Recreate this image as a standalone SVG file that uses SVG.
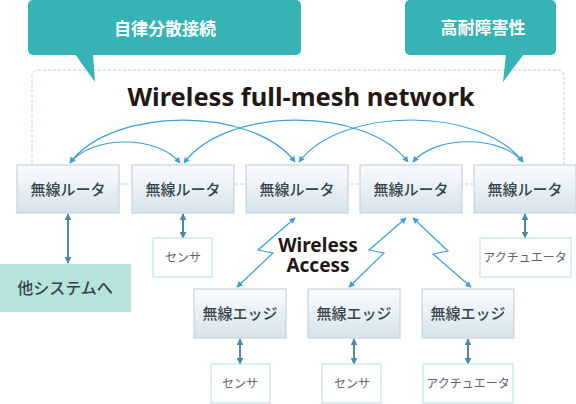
<svg xmlns="http://www.w3.org/2000/svg" width="576" height="404" viewBox="0 0 576 404">
<defs>
<linearGradient id="boxg" x1="0" y1="0" x2="0" y2="1">
<stop offset="0" stop-color="#fafcfd"/>
<stop offset="1" stop-color="#d6e3ec"/>
</linearGradient>
<marker id="ab" viewBox="0 0 10 10" refX="9" refY="5" markerWidth="7" markerHeight="6" markerUnits="userSpaceOnUse" orient="auto-start-reverse">
<path d="M0,0 L10,5 L0,10 Z" fill="#3a9fd8"/>
</marker>
<marker id="ad" viewBox="0 0 10 10" refX="9" refY="5" markerWidth="7" markerHeight="7" markerUnits="userSpaceOnUse" orient="auto-start-reverse">
<path d="M0,0 L10,5 L0,10 Z" fill="#4c8aa6"/>
</marker>
</defs>
<style>
.jp{font-family:"Noto Sans CJK JP","Noto Sans",sans-serif;}
.en{font-family:"Noto Sans","Open Sans",sans-serif;font-weight:bold;fill:#231815;}
.box{fill:url(#boxg);stroke:#c8d2d9;stroke-width:1.2;}
.bt{font-size:15px;font-weight:500;fill:#36434c;text-anchor:middle;}
.dev{fill:#ffffff;stroke:#bfe4e6;stroke-width:1.2;}
.dt{font-size:12px;fill:#5a6770;text-anchor:middle;}
.arc{fill:none;stroke:#3a9fd8;stroke-width:1.2;marker-start:url(#ab);marker-end:url(#ab);}
.vl{fill:none;stroke:#4c8aa6;stroke-width:2;marker-start:url(#ad);marker-end:url(#ad);}
.call{fill:#35b3b5;}
.ct{font-size:17px;font-weight:bold;fill:#ffffff;text-anchor:middle;}
</style>

<rect id="frame" x="32" y="70" width="532" height="114" rx="6" fill="none" stroke="#a9d4ec" stroke-width="1" stroke-dasharray="3 2"/>

<g id="callout-left">
<rect class="call" x="28" y="0" width="273" height="55" rx="5"/>
<path class="call" d="M75,54 L93,54 L95,82 Z"/>
<text class="jp ct" x="165" y="35">自律分散接続</text>
</g>
<g id="callout-right">
<rect class="call" x="405" y="0" width="151" height="55" rx="5"/>
<path class="call" d="M506,54 L524,54 L503,82 Z"/>
<text class="jp ct" x="483" y="34">高耐障害性</text>
</g>

<text id="title" class="en" x="301" y="106" font-size="25.5" text-anchor="middle">Wireless full-mesh network</text>

<g id="connectors">
<path class="arc" d="M70,163 C112,106 253,106 295,162"/>
<path class="arc" d="M184,163 C226,106 366,106 408,162"/>
<path class="arc" d="M299,162 C341,106 481,106 523,162"/>
<path class="arc" d="M70,163 C92,135 158,135 180,163"/>
<path class="arc" d="M413,162 C435,135 501,135 523,162"/>
<path class="vl" d="M68,214 L68,263"/>
<path class="vl" d="M183,214 L183,238"/>
<path class="vl" d="M525,214 L525,238"/>
<path class="vl" d="M240,339 L240,364"/>
<path class="vl" d="M354,339 L354,364"/>
<path class="vl" d="M468,339 L468,364"/>
<polyline class="arc" points="295,218 258,250 273,253 237,287"/>
<polyline class="arc" points="406,218 369,250 384,253 349,287"/>
<polyline class="arc" points="413,218 448,251 433,254 471,287"/>
</g>

<g id="router1"><rect class="box" x="17" y="165" width="102" height="48"/><text class="jp bt" x="68" y="195">無線ルータ</text></g>
<g id="router2"><rect class="box" x="132" y="165" width="102" height="48"/><text class="jp bt" x="183" y="195">無線ルータ</text></g>
<g id="router3"><rect class="box" x="246" y="165" width="102" height="48"/><text class="jp bt" x="297" y="195">無線ルータ</text></g>
<g id="router4"><rect class="box" x="360" y="165" width="102" height="48"/><text class="jp bt" x="411" y="195">無線ルータ</text></g>
<g id="router5"><rect class="box" x="474" y="165" width="102" height="48"/><text class="jp bt" x="525" y="195">無線ルータ</text></g>

<g id="other-systems"><rect x="0" y="264" width="131" height="48" fill="#b6e4dc"/><text class="jp" x="65" y="294" font-size="16" font-weight="500" fill="#36434c" text-anchor="middle">他システムへ</text></g>
<g id="sensor1"><rect class="dev" x="153" y="238" width="59" height="39"/><text class="jp dt" x="183" y="262">センサ</text></g>
<g id="actuator1"><rect class="dev" x="480" y="238" width="91" height="39"/><text class="jp dt" x="525" y="262">アクチュエータ</text></g>

<text id="wireless-access" class="en" font-size="19" text-anchor="middle"><tspan x="318" y="252">Wireless</tspan><tspan x="318" y="272">Access</tspan></text>

<g id="edge1"><rect class="box" x="194" y="289" width="92" height="49"/><text class="jp bt" x="240" y="319">無線エッジ</text></g>
<g id="edge2"><rect class="box" x="308" y="289" width="92" height="49"/><text class="jp bt" x="354" y="319">無線エッジ</text></g>
<g id="edge3"><rect class="box" x="422" y="289" width="92" height="49"/><text class="jp bt" x="468" y="319">無線エッジ</text></g>

<g id="sensor2"><rect class="dev" x="211" y="364" width="59" height="39"/><text class="jp dt" x="240" y="388">センサ</text></g>
<g id="sensor3"><rect class="dev" x="322" y="364" width="59" height="39"/><text class="jp dt" x="352" y="388">センサ</text></g>
<g id="actuator2"><rect class="dev" x="423" y="364" width="90" height="39"/><text class="jp dt" x="468" y="388">アクチュエータ</text></g>
</svg>
